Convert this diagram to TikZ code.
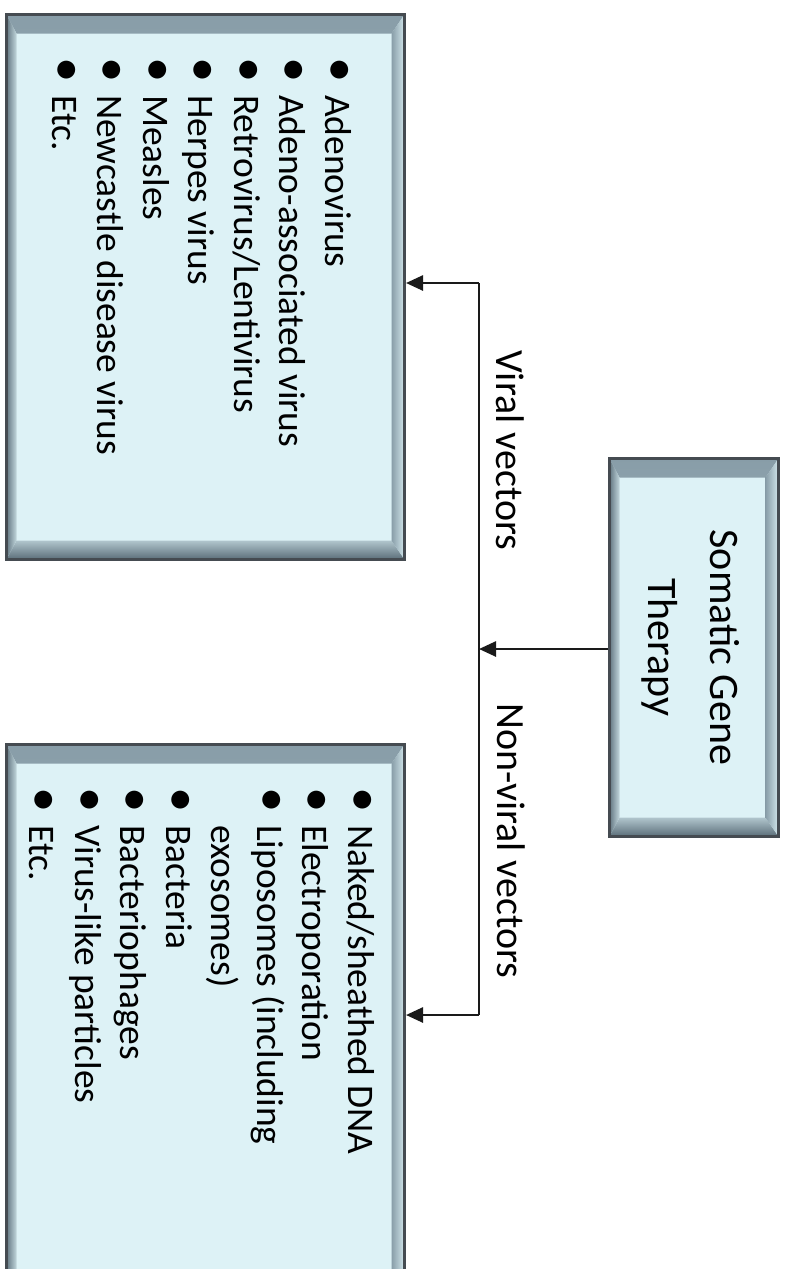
\documentclass[tikz,border=0pt]{standalone}
\usepackage{fontspec}
\setmainfont{Carlito}
\usetikzlibrary{arrows.meta,calc}

\definecolor{boxfill}{HTML}{DDF2F6}
\definecolor{boxedge}{HTML}{454B51}
\definecolor{bevdark}{HTML}{5A6D78}
\definecolor{bevmid}{HTML}{889DA8}
\definecolor{bevlight}{HTML}{C2D7DD}
\definecolor{linec}{HTML}{1A1A1A}

\newcommand\bul{\makebox[38pt][l]{\scalebox{1.35}{•}}}

\tikzset{
  bevelbox/.style={
    draw=boxedge, line width=3pt, fill=boxfill, inner sep=0pt,
    anchor=north west,
    path picture={
      % top band
      \shade[top color=bevmid, bottom color=bevlight]
        let \p1=(path picture bounding box.north west),
            \p2=(path picture bounding box.south east) in
        (\x1,\y1) -- (\x2,\y1) -- (\x2-13pt,\y1-19pt) -- (\x1+10pt,\y1-19pt) -- cycle;
      % bottom band
      \shade[top color=bevlight!70!bevmid, bottom color=bevdark]
        let \p1=(path picture bounding box.north west),
            \p2=(path picture bounding box.south east) in
        (\x1,\y2) -- (\x2,\y2) -- (\x2-13pt,\y2+19pt) -- (\x1+10pt,\y2+19pt) -- cycle;
      % left band
      \shade[left color=bevdark!80!bevmid, right color=bevlight]
        let \p1=(path picture bounding box.north west),
            \p2=(path picture bounding box.south east) in
        (\x1,\y1) -- (\x1+10pt,\y1-19pt) -- (\x1+10pt,\y2+19pt) -- (\x1,\y2) -- cycle;
      % right band
      \shade[left color=bevmid, right color=boxfill!60!bevlight]
        let \p1=(path picture bounding box.north west),
            \p2=(path picture bounding box.south east) in
        (\x2,\y1) -- (\x2-13pt,\y1-19pt) -- (\x2-13pt,\y2+19pt) -- (\x2,\y2) -- cycle;
    }},
  listtext/.style={rotate=-90, anchor=base west, inner sep=0pt,
    font=\fontsize{37.5}{45.5}\selectfont, text=black},
  labeltext/.style={rotate=-90, anchor=base west, inner sep=0pt,
    font=\fontsize{40}{48}\selectfont, text=black},
  conn/.style={draw=linec, line width=2.6pt},
  tip/.style={-{Triangle[length=17pt,width=15pt]}}
}

\begin{document}
\begin{tikzpicture}[x=1pt,y=-1pt]
\useasboundingbox (0,0) rectangle (787,1269);

% boxes
\node[bevelbox, minimum width=398pt, minimum height=545pt] (viral) at (5,13) {};
\node[bevelbox, minimum width=398pt, minimum height=545pt] (nonviral) at (5,743) {};
\node[bevelbox, minimum width=169pt, minimum height=378pt] (som) at (608,457) {};

% box texts
\node[rotate=-90, inner sep=0pt, align=center, text=black,
      font=\fontsize{42}{62}\selectfont] (somtext) at ([xshift=-3pt]som.center) {Somatic Gene\\Therapy};

\node[listtext] (viralitems) at (325,57) {%
  \begin{tabular}[t]{@{}l@{}}
  \bul Adenovirus\\
  \bul Adeno-associated virus\\
  \bul Retrovirus/Lentivirus\\
  \bul Herpes virus\\
  \bul Measles\\
  \bul Newcastle disease virus\\
  \bul Etc.
  \end{tabular}};

\node[listtext] (nonviralitems) at (348,787) {%
  \begin{tabular}[t]{@{}l@{}}
  \bul Naked/sheathed DNA\\
  \bul Electroporation\\
  \bul Liposomes (including\\
  \hspace*{38pt}exosomes)\\
  \bul Bacteria\\
  \bul Bacteriophages\\
  \bul Virus-like particles\\
  \bul Etc.
  \end{tabular}};

% connector junctions
\coordinate (jT) at (479,283);
\coordinate (jM) at (479,649);
\coordinate (jB) at (479,1015);

\draw[conn, tip] (som.west |- jM) -- (jM);
\draw[conn] (jT) -- (jB);
\draw[conn, tip] (jT) -- (jT -| viral.east);
\draw[conn, tip] (jB) -- (jB -| nonviral.east);

% branch labels
\node[labeltext] (lviral) at (496,350) {Viral vectors};
\node[labeltext] (lnonviral) at (497,703) {Non-viral vectors};
\end{tikzpicture}
\end{document}
